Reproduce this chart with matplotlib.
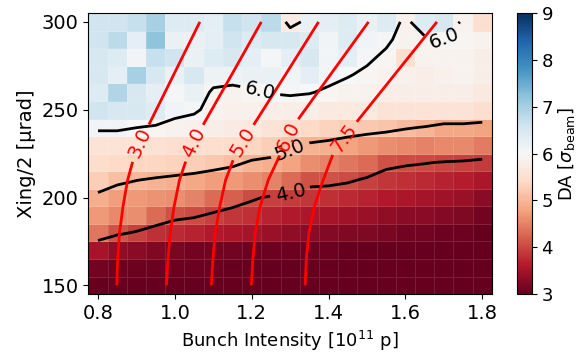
import numpy as np
import matplotlib
matplotlib.use("Agg")
import matplotlib.pyplot as plt
from matplotlib.contour import ContourSet

# ---- data -------------------------------------------------------------
intensity = [0.80, 0.85, 0.90, 0.95, 1.00, 1.05, 1.10, 1.15, 1.20, 1.25, 1.30,
             1.35, 1.40, 1.45, 1.50, 1.55, 1.60, 1.65, 1.70, 1.75, 1.80]
xing = [150, 160, 170, 180, 190, 200, 210, 220, 230, 240, 250, 260, 270, 280, 290, 300]

da_150 = [3.0] * 21
da_160 = [3.1, 3.05, 3.05, 3.05, 3.05, 3.05, 3.05, 3.0, 3.0, 3.0, 3.0, 3.0, 3.0, 3.0, 3.0, 3.0, 3.0, 3.0, 3.0, 3.0, 3.0]
da_170 = [3.5, 3.35, 3.3, 3.2, 3.15, 3.1, 3.1, 3.1, 3.05, 3.05, 3.05, 3.05, 3.05, 3.0, 3.0, 3.0, 3.0, 3.0, 3.0, 3.0, 3.0]
da_180 = [4.4, 4.1, 3.95, 3.8, 3.75, 3.7, 3.6, 3.55, 3.5, 3.4, 3.35, 3.3, 3.25, 3.2, 3.2, 3.15, 3.1, 3.1, 3.05, 3.05, 3.0]
da_190 = [4.7, 4.55, 4.6, 4.3, 4.1, 4.05, 3.95, 3.85, 3.8, 3.7, 3.6, 3.55, 3.5, 3.45, 3.4, 3.35, 3.3, 3.3, 3.25, 3.2, 3.1]
da_200 = [4.9, 4.75, 4.7, 4.65, 4.6, 4.5, 4.3, 4.2, 4.05, 3.95, 3.9, 3.85, 3.8, 3.75, 3.7, 3.6, 3.55, 3.5, 3.45, 3.4, 3.3]
da_210 = [5.25, 5.1, 5.01, 4.95, 4.9, 4.85, 4.75, 4.7, 4.6, 4.5, 4.3, 4.1, 4.1, 4.05, 3.95, 3.85, 3.8, 3.75, 3.7, 3.65, 3.55]
da_220 = [5.45, 5.4, 5.35, 5.35, 5.3, 5.25, 5.2, 5.1, 4.95, 4.9, 4.8, 4.6, 4.5, 4.4, 4.3, 4.1, 4.05, 4.02, 3.98, 3.95, 3.9]
da_230 = [5.6, 5.6, 5.6, 5.55, 5.5, 5.5, 5.5, 5.45, 5.35, 5.25, 5.1, 4.95, 4.9, 4.8, 4.7, 4.6, 4.55, 4.5, 4.55, 4.55, 4.45]
da_240 = [6.1, 6.1, 6.01, 5.95, 5.9, 5.85, 5.8, 5.75, 5.7, 5.6, 5.5, 5.4, 5.3, 5.25, 5.2, 5.15, 5.05, 4.98, 4.85, 4.85, 4.8]
da_250 = [6.6, 6.5, 6.5, 6.4, 6.1, 6.05, 5.9, 5.85, 5.85, 5.8, 5.8, 5.8, 5.7, 5.7, 5.7, 5.6, 5.6, 5.6, 5.6, 5.6, 5.5]
da_260 = [6.4, 6.9, 6.5, 6.3, 6.05, 6.2, 5.95, 5.9, 5.95, 6.02, 6.05, 6.02, 5.95, 5.9, 5.9, 5.8, 5.8, 5.8, 5.8, 5.8, 5.7]
da_270 = [6.5, 6.3, 7.0, 6.5, 6.2, 6.5, 6.15, 6.15, 6.2, 6.2, 6.1, 6.3, 6.1, 6.02, 5.95, 5.9, 5.85, 5.8, 5.85, 5.9, 5.8]
da_280 = [6.5, 6.4, 6.1, 6.7, 6.6, 6.2, 6.4, 6.5, 6.3, 6.05, 6.3, 6.5, 6.1, 6.3, 6.05, 5.95, 5.5, 5.9, 5.9, 5.9, 5.8]
da_290 = [6.6, 6.8, 6.3, 7.2, 6.2, 6.2, 6.3, 6.6, 6.4, 6.5, 6.5, 6.4, 6.1, 6.4, 6.1, 6.05, 5.9, 5.9, 5.97, 5.95, 5.9]
da_300 = [6.6, 6.6, 6.7, 7.0, 6.4, 6.4, 6.3, 6.7, 6.6, 6.8, 5.75, 6.2, 6.3, 6.4, 6.2, 6.4, 5.85, 6.4, 6.5, 5.9, 5.5]

da_levels = [4.0, 5.0, 6.0]

# red iso-lines
red_levels = [3.0, 4.0, 5.0, 6.0, 7.5]
red_y = [150, 165, 180, 195, 210, 225, 240, 270, 300]
red_x_3p0 = [0.849, 0.851, 0.856, 0.865, 0.877, 0.896, 0.929, 0.997, 1.065]
red_x_4p0 = [0.978, 0.982, 0.988, 0.998, 1.012, 1.035, 1.070, 1.148, 1.225]
red_x_5p0 = [1.095, 1.099, 1.105, 1.117, 1.132, 1.158, 1.201, 1.288, 1.374]
red_x_6p0 = [1.199, 1.203, 1.209, 1.222, 1.243, 1.275, 1.306, 1.405, 1.504]
red_x_7p5 = [1.339, 1.342, 1.349, 1.363, 1.386, 1.412, 1.462, 1.572, 1.682]

# ---- figure -----------------------------------------------------------
da = np.array([da_150, da_160, da_170, da_180, da_190, da_200, da_210, da_220,
               da_230, da_240, da_250, da_260, da_270, da_280, da_290, da_300])
X, Y = np.meshgrid(intensity, xing)

fig = plt.figure(figsize=(5.78, 3.54), dpi=100)
ax = fig.add_axes([0.153, 0.169, 0.698, 0.794])
cax = fig.add_axes([0.894, 0.169, 0.026, 0.794])

pcm = ax.pcolormesh(X, Y, da, cmap="RdBu", vmin=3, vmax=9, shading="nearest",
                    edgecolors=(1, 1, 1, 0.12), linewidth=0.5)

cs = ax.contour(X, Y, da, levels=da_levels, colors="k", linewidths=2)
ax.clabel(cs, fmt="%.1f", fontsize=14, inline=True,
          manual=[(1.22, 259), (1.30, 227), (1.30, 203), (1.70, 291)])

red_x = [red_x_3p0, red_x_4p0, red_x_5p0, red_x_6p0, red_x_7p5]
allsegs = [[np.column_stack([rx, red_y])] for rx in red_x]
rcs = ContourSet(ax, red_levels, allsegs, colors="red", linewidths=2)
ax.clabel(rcs, fmt="%.1f", fontsize=14, inline=True,
          manual=[(0.91, 231), (1.05, 231), (1.18, 231), (1.29, 235), (1.44, 234)])

ax.set_xlim(0.775, 1.825)
ax.set_ylim(145, 305)
ax.set_xticks([0.8, 1.0, 1.2, 1.4, 1.6, 1.8])
ax.set_yticks([150, 200, 250, 300])
ax.tick_params(labelsize=14)
ax.set_xlabel("Bunch Intensity [$10^{11}$ p]", fontsize=13)
ax.set_ylabel("Xing/2 [μrad]", fontsize=14)

cb = fig.colorbar(pcm, cax=cax)
cb.set_ticks([3, 4, 5, 6, 7, 8, 9])
cb.ax.tick_params(labelsize=13)
cb.set_label(r"DA [$\sigma_{\rm beam}$]", fontsize=13, labelpad=2)

fig.savefig("out.png", dpi=100)
